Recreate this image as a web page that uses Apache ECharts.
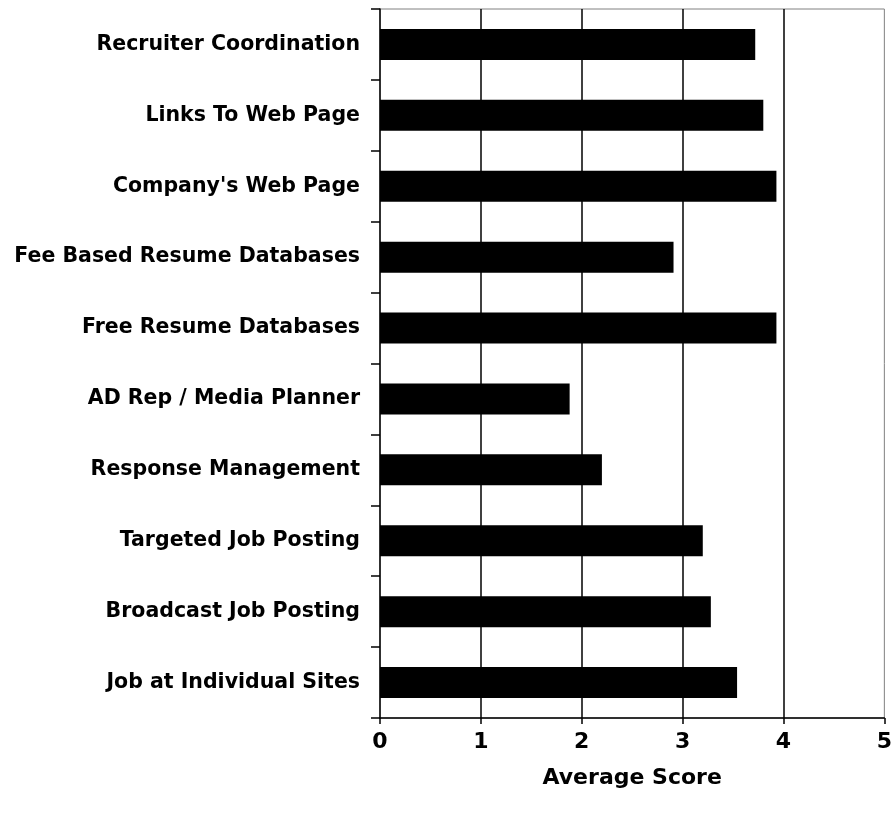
<!DOCTYPE html>
<html>
<head>
<meta charset="utf-8">
<script src="https://cdn.jsdelivr.net/npm/echarts@6/dist/echarts.min.js"></script>
<style>
  html, body { margin: 0; padding: 0; background: #fff; }
  #chart { width: 895px; height: 819px; }
</style>
</head>
<body>
<div id="chart"></div>
<script>
// Survey categories, listed top to bottom
const categories = [
  'Recruiter Coordination',
  'Links To Web Page',
  "Company's Web Page",
  'Fee Based Resume Databases',
  'Free Resume Databases',
  'AD Rep / Media Planner',
  'Response Management',
  'Targeted Job Posting',
  'Broadcast Job Posting',
  'Job at Individual Sites'
];

// Average score per category
const averageScores = [3.72, 3.80, 3.93, 2.91, 3.93, 1.88, 2.20, 3.20, 3.28, 3.54];

// Score axis range and step
const scoreMin = 0;
const scoreMax = 5;
const scoreStep = 1;

const chart = echarts.init(document.getElementById('chart'), null, { renderer: 'canvas' });

const labelFont = '"DejaVu Sans", "Liberation Sans", Arial, sans-serif';

chart.setOption({
  backgroundColor: '#ffffff',
  animation: false,
  grid: {
    left: 380,
    right: 7,
    top: 9,
    bottom: 101,
    show: true,
    borderColor: '#808080',
    borderWidth: 1,
    backgroundColor: 'transparent'
  },
  xAxis: {
    type: 'value',
    min: scoreMin,
    max: scoreMax,
    interval: scoreStep,
    name: 'Average Score',
    nameLocation: 'middle',
    nameGap: 49,
    nameTextStyle: {
      color: '#000',
      fontFamily: labelFont,
      fontWeight: 'bold',
      fontSize: 22
    },
    axisLine: { show: true, lineStyle: { color: '#000', width: 1.5 } },
    axisTick: { show: true, length: 6, lineStyle: { color: '#000', width: 1.5 } },
    axisLabel: {
      color: '#000',
      fontFamily: labelFont,
      fontWeight: 'bold',
      fontSize: 22,
      margin: 13
    },
    splitLine: {
      show: true,
      showMinLine: false,
      showMaxLine: false,
      lineStyle: { color: '#000', width: 1.5 }
    }
  },
  yAxis: {
    type: 'category',
    data: categories,
    inverse: true,
    axisLine: { show: true, lineStyle: { color: '#000', width: 1.5 } },
    axisTick: { show: true, length: 9, lineStyle: { color: '#000', width: 1.5 } },
    axisLabel: {
      color: '#000',
      fontFamily: labelFont,
      fontWeight: 'bold',
      fontSize: 20.5,
      margin: 20
    },
    splitLine: { show: false }
  },
  series: [{
    type: 'bar',
    data: averageScores,
    barWidth: 31,
    itemStyle: { color: '#000' },
    silent: true
  }]
});
</script>
</body>
</html>
